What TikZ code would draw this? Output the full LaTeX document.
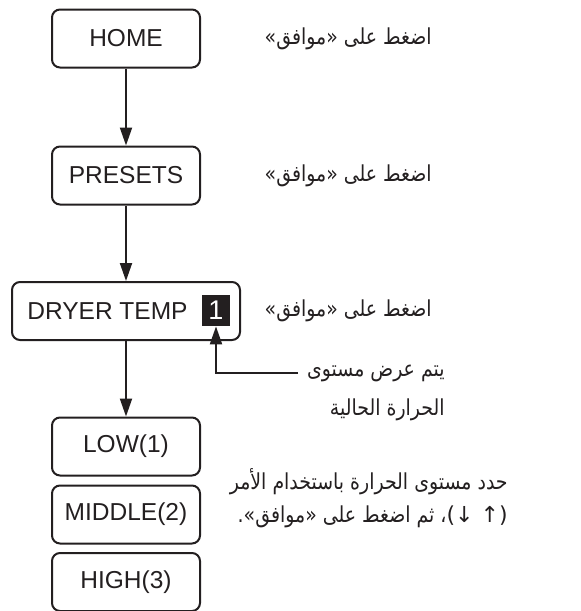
\documentclass[tikz,border=0pt]{standalone}
\usepackage{fontspec}
\setmainfont{Liberation Sans}
\newfontfamily\arabicfont[Script=Arabic,FakeStretch=0.86]{DejaVu Sans}
\newfontfamily\symfont{DejaVu Sans}
\TeXXeTstate=1
\usepackage{xcolor}
\usepackage{tikz}
\usetikzlibrary{arrows.meta,positioning,calc}
\definecolor{ink}{HTML}{231F20}

\begin{document}
\begin{tikzpicture}[x=0.5pt,y=-0.5pt,font=\fontsize{12.25}{14}\selectfont,
  box/.style={draw=ink,line width=1pt,rounded corners=4pt,minimum width=74pt,minimum height=29pt,inner sep=0pt,text=ink},
  arr/.style={draw=ink,line width=1pt,-{Triangle[length=9pt,width=6pt]}},
  ar/.style={font=\fontsize{11}{13}\selectfont\arabicfont,text=ink,inner sep=0pt}]
\useasboundingbox (0,0) rectangle (580,611);
% menu chain
\node[box] (home) at (126,38.5) {HOME};
\node[box] (presets) at (126,175.5) {PRESETS};
\node[box,minimum width=114pt] (dryer) at (126,311) {};
\node[anchor=west,inner sep=0pt,text=ink] (dtext) at (27,311) {DRYER TEMP};
\node[fill=ink,text=white,font=\fontsize{13.5}{14}\selectfont,minimum width=14pt,minimum height=15.5pt,inner sep=0pt] (lvl) at (216,310.5) {1};
\node[box] (low) at (126,446.5) {LOW(1)};
\node[box] (mid) at (126,514.5) {MIDDLE(2)};
\node[box] (high) at (126,582) {HIGH(3)};
\draw[arr] (home) -- (presets);
\draw[arr] (presets) -- (dryer);
\draw[arr] (dryer) -- (low);

% notes on the right
\node[ar,anchor=east] (ok1) at (432,38.5) {\beginR اضغط على «موافق»\endR};
\node[ar,anchor=east] (ok2) at (432,175.5) {\beginR اضغط على «موافق»\endR};
\node[ar,anchor=east] (ok3) at (432,311) {\beginR اضغط على «موافق»\endR};
\node[ar,anchor=east] (shown1) at (445,373) {\beginR يتم عرض مستوى\endR};
\node[ar,anchor=east] (shown2) at (445,410) {\beginR الحرارة الحالية\endR};
\coordinate (ptr) at (298,373);
\draw[arr] (ptr) -| (lvl.south);
\node[ar,anchor=east] (sel1) at (508,482) {\beginR حدد مستوى الحرارة باستخدام الأمر\endR};
\node[ar,anchor=east] (sel2) at (508,517) {\beginR{\symfont\beginL(↓ ↑)\endL}، ثم اضغط على «موافق».\endR};
\end{tikzpicture}
\end{document}
